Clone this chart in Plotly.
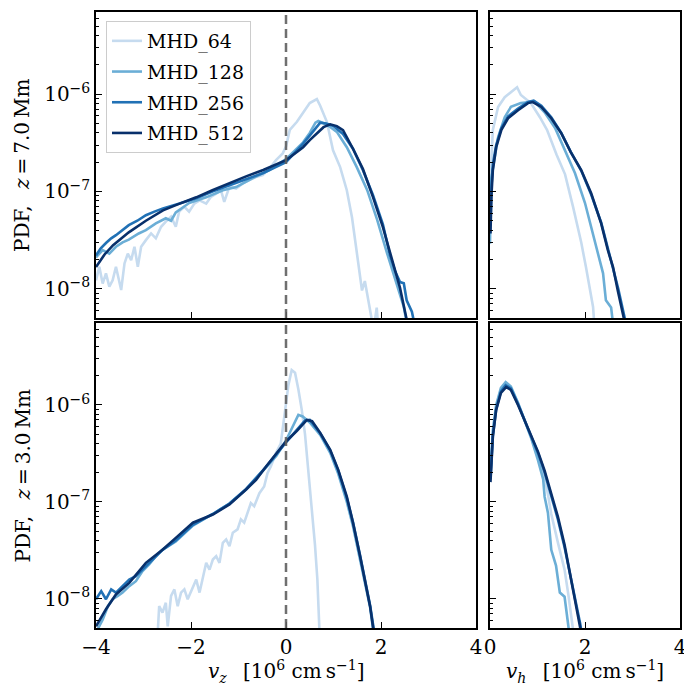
import plotly.graph_objects as go

# ---------------- data ----------------
series_names = ["MHD_64", "MHD_128", "MHD_256", "MHD_512"]
series_colors = ["#c6dbef", "#6baed6", "#2171b5", "#08306b"]

x_ticks_vz = [-4, -2, 0, 2, 4]
x_ticktext_vz = ["\u22124", "\u22122", "0", "2", "4"]
x_ticks_vh = [0, 2, 4]
x_ticktext_vh = ["0", "2", "4"]
y_ticks = [1e-8, 1e-7, 1e-6]
y_ticktext = ["10<sup>\u22128</sup>", "10<sup>\u22127</sup>", "10<sup>\u22126</sup>"]
y_minor = [6e-9, 7e-9, 8e-9, 9e-9, 2e-8, 3e-8, 4e-8, 5e-8, 6e-8, 7e-8, 8e-8, 9e-8,
           2e-7, 3e-7, 4e-7, 5e-7, 6e-7, 7e-7, 8e-7, 9e-7, 2e-6, 3e-6, 4e-6, 5e-6, 6e-6]
heights = ["7.0", "3.0"]

# ---- z = 7.0 Mm, v_z ----
vz7_x_64 = [-4.0, -3.93, -3.86, -3.79, -3.72, -3.65, -3.58, -3.47, -3.40, -3.33, -3.26, -3.19, -3.12, -3.05,
            -2.95, -2.84, -2.74, -2.63, -2.53, -2.42, -2.32, -2.25, -2.14, -2.04, -1.93, -1.82, -1.68, -1.58,
            -1.47, -1.37, -1.30, -1.19, -1.05, -0.91, -0.77, -0.63, -0.49, -0.35, -0.21, -0.07, 0.0, 0.08,
            0.23, 0.36, 0.5, 0.65, 0.72, 0.86, 0.99, 1.14, 1.28, 1.39, 1.5, 1.6, 1.66, 1.72, 1.8, 1.85, 1.91, 1.96]
vz7_y_64 = [1.22e-8, 1.68e-8, 1.13e-8, 1.44e-8, 1.05e-8, 1.22e-8, 1.68e-8, 9.7e-9, 1.82e-8, 2.3e-8, 1.97e-8,
            2.7e-8, 1.68e-8, 2.7e-8, 3.16e-8, 3.7e-8, 3.3e-8, 4.33e-8, 4.9e-8, 5.5e-8, 4.33e-8, 6.2e-8, 6.95e-8,
            6.2e-8, 7.5e-8, 8.1e-8, 7.5e-8, 8.8e-8, 9.5e-8, 1.03e-7, 7.8e-8, 1.12e-7, 1.07e-7, 1.21e-7, 1.31e-7,
            1.41e-7, 1.47e-7, 1.72e-7, 2.1e-7, 2.46e-7, 2.9e-7, 4.3e-7, 5.2e-7, 6.5e-7, 8.1e-7, 8.9e-7, 7.6e-7,
            5.2e-7, 2.65e-7, 1.78e-7, 1.03e-7, 5.4e-8, 2.3e-8, 9.6e-9, 1.2e-8, 8e-9, 5e-9, 4e-9, 6.4e-9, 3e-9]
vz7_x_128 = [-4.0, -3.86, -3.72, -3.58, -3.44, -3.31, -3.1, -2.95, -2.74, -2.53, -2.42, -2.32, -2.04, -1.68,
             -1.33, -1.05, -0.7, -0.35, 0.0, 0.2, 0.36, 0.5, 0.62, 0.68, 0.8, 0.93, 1.07, 1.28, 1.49, 1.71,
             1.92, 2.13, 2.34, 2.48, 2.56]
vz7_y_128 = [2.1e-8, 2.5e-8, 2.3e-8, 2.7e-8, 3.0e-8, 3.2e-8, 3.7e-8, 4.0e-8, 4.7e-8, 5.3e-8, 5.0e-8, 6.1e-8,
             7.6e-8, 8.7e-8, 1.03e-7, 1.11e-7, 1.37e-7, 1.66e-7, 2.15e-7, 2.7e-7, 3.2e-7, 4.0e-7, 5.1e-7,
             5.3e-7, 5.0e-7, 4.6e-7, 4.1e-7, 2.85e-7, 1.78e-7, 1.03e-7, 5.1e-8, 2.3e-8, 1.04e-8, 6.5e-9, 4e-9]
vz7_x_256 = [-4.0, -3.9, -3.79, -3.68, -3.58, -3.44, -3.31, -3.13, -2.95, -2.77, -2.59, -2.24, -1.89, -1.55,
             -1.2, -0.84, -0.48, 0.0, 0.36, 0.58, 0.72, 0.85, 1.0, 1.2, 1.41, 1.62, 1.83, 2.04, 2.19, 2.3,
             2.4, 2.48, 2.54, 2.65, 2.72]
vz7_y_256 = [2.2e-8, 2.6e-8, 2.95e-8, 3.3e-8, 3.55e-8, 4.0e-8, 4.5e-8, 5.0e-8, 5.7e-8, 6.2e-8, 6.7e-8, 7.5e-8,
             8.5e-8, 1.0e-7, 1.16e-7, 1.35e-7, 1.55e-7, 2.0e-7, 3.1e-7, 4.2e-7, 5.1e-7, 5.0e-7, 4.7e-7, 3.9e-7,
             2.75e-7, 1.65e-7, 9.2e-8, 4.6e-8, 2.2e-8, 1.5e-8, 1.17e-8, 1.14e-8, 7.6e-9, 5.8e-9, 4e-9]
vz7_x_512 = [-4.0, -3.82, -3.64, -3.31, -2.95, -2.59, -2.24, -1.89, -1.55, -1.2, -0.84, -0.48, -0.2, 0.0,
             0.23, 0.36, 0.5, 0.65, 0.79, 0.93, 1.07, 1.2, 1.41, 1.62, 1.83, 2.04, 2.25, 2.4, 2.53, 2.6]
vz7_y_512 = [1.67e-8, 2.25e-8, 2.8e-8, 3.8e-8, 5.0e-8, 6.4e-8, 7.5e-8, 8.7e-8, 1.03e-7, 1.22e-7, 1.43e-7,
             1.66e-7, 1.9e-7, 2.1e-7, 2.54e-7, 2.85e-7, 3.37e-7, 3.98e-7, 4.58e-7, 4.9e-7, 4.7e-7, 4.27e-7,
             2.75e-7, 1.7e-7, 8.8e-8, 4.3e-8, 1.88e-8, 1.02e-8, 5.1e-9, 3.5e-9]

# ---- z = 7.0 Mm, v_h ----
vh7_x_64 = [0.01, 0.06, 0.17, 0.31, 0.44, 0.57, 0.65, 0.86, 1.05, 1.2, 1.4, 1.58, 1.75, 1.92, 2.02, 2.1, 2.17, 2.2]
vh7_y_64 = [1.3e-7, 4.3e-7, 7.4e-7, 9.3e-7, 1.05e-6, 1.18e-6, 9.8e-7, 8.1e-7, 5.8e-7, 4.3e-7, 2.4e-7, 1.5e-7,
            6.9e-8, 3.0e-8, 1.67e-8, 9.6e-9, 6.5e-9, 4e-9]
vh7_x_128 = [0.0, 0.02, 0.17, 0.31, 0.44, 0.65, 0.94, 1.15, 1.37, 1.58, 1.79, 2.0, 2.13, 2.27, 2.38, 2.44, 2.55, 2.6]
vh7_y_128 = [2.9e-8, 1.3e-7, 3.6e-7, 5.8e-7, 7.4e-7, 8.1e-7, 8.4e-7, 6.5e-7, 4.5e-7, 2.66e-7, 1.54e-7, 7.6e-8,
             4.3e-8, 2.3e-8, 1.44e-8, 7.6e-9, 6.4e-9, 4e-9]
vh7_x_256 = [0.01, 0.03, 0.06, 0.13, 0.24, 0.38, 0.59, 0.8, 0.92, 1.08, 1.29, 1.5, 1.7, 1.92, 2.13, 2.34, 2.5,
             2.6, 2.7, 2.8, 2.88]
vh7_y_256 = [4.5e-8, 1.1e-7, 1.9e-7, 3.0e-7, 4.5e-7, 5.9e-7, 7.1e-7, 8.3e-7, 8.6e-7, 7.6e-7, 5.8e-7, 4.0e-7,
             2.55e-7, 1.64e-7, 9.3e-8, 4.8e-8, 2.4e-8, 1.6e-8, 1.0e-8, 6e-9, 4e-9]
vh7_x_512 = [0.01, 0.03, 0.06, 0.13, 0.24, 0.38, 0.59, 0.8, 0.9, 1.08, 1.29, 1.5, 1.7, 1.92, 2.13, 2.34, 2.48,
             2.59, 2.69, 2.8, 2.86]
vh7_y_512 = [3.7e-8, 9e-8, 1.66e-7, 2.85e-7, 4.3e-7, 5.66e-7, 6.85e-7, 8.1e-7, 8.3e-7, 7.4e-7, 5.66e-7, 3.97e-7,
             2.54e-7, 1.66e-7, 9.6e-8, 4.7e-8, 2.5e-8, 1.67e-8, 9.6e-9, 5.6e-9, 4e-9]

# ---- z = 3.0 Mm, v_z ----
vz3_x_64 = [-2.70, -2.67, -2.6, -2.53, -2.49, -2.42, -2.35, -2.28, -2.21, -2.14, -2.07, -1.96, -1.89, -1.82,
            -1.75, -1.68, -1.61, -1.54, -1.47, -1.40, -1.33, -1.26, -1.19, -1.12, -1.02, -0.95, -0.88, -0.81,
            -0.74, -0.67, -0.56, -0.46, -0.39, -0.32, -0.21, -0.11, -0.05, 0.0, 0.05, 0.12, 0.19, 0.26, 0.33,
            0.4, 0.47, 0.54, 0.61, 0.66, 0.7, 0.72]
vz3_y_64 = [4.5e-9, 8.4e-9, 7.2e-9, 9.1e-9, 5.2e-9, 1.07e-8, 1.25e-8, 8.4e-9, 1.16e-8, 1.25e-8, 9.9e-9, 1.35e-8,
            1.58e-8, 1.16e-8, 1.71e-8, 2.35e-8, 2.0e-8, 2.54e-8, 2.75e-8, 2.35e-8, 3.78e-8, 4.1e-8, 3.5e-8,
            4.8e-8, 5.2e-8, 6.6e-8, 6.1e-8, 7.7e-8, 9.7e-8, 9.0e-8, 1.23e-7, 1.44e-7, 1.98e-7, 2.32e-7, 3.2e-7,
            4.0e-7, 6.5e-7, 1.0e-6, 1.6e-6, 2.29e-6, 2.15e-6, 1.45e-6, 9.0e-7, 5.0e-7, 2.1e-7, 8.5e-8, 3.6e-8,
            1.6e-8, 6e-9, 3e-9]
vz3_x_128 = [-4.0, -3.86, -3.75, -3.65, -3.54, -3.44, -3.3, -3.16, -3.02, -2.88, -2.74, -2.6, -2.32, -1.96,
             -1.54, -1.19, -0.84, -0.42, -0.2, 0.0, 0.15, 0.26, 0.35, 0.5, 0.72, 0.93, 1.1, 1.28, 1.41, 1.56,
             1.66, 1.77, 1.84, 1.9]
vz3_y_128 = [4.5e-9, 6.1e-9, 8.4e-9, 9.9e-9, 1.07e-8, 1.16e-8, 1.35e-8, 1.52e-8, 1.93e-8, 2.27e-8, 2.75e-8,
             3.2e-8, 3.9e-8, 5.7e-8, 7.5e-8, 9.6e-8, 1.34e-7, 2.3e-7, 3.0e-7, 4.3e-7, 6.2e-7, 7.9e-7, 7.6e-7,
             6.6e-7, 4.9e-7, 3.2e-7, 1.95e-7, 1.0e-7, 5.6e-8, 2.6e-8, 1.55e-8, 8.2e-9, 4.6e-9, 3e-9]
vz3_x_256 = [-4.0, -3.89, -3.79, -3.68, -3.58, -3.44, -3.3, -3.16, -3.02, -2.88, -2.74, -2.6, -2.32, -1.96,
             -1.54, -1.19, -0.84, -0.42, 0.0, 0.23, 0.4, 0.5, 0.72, 0.93, 1.1, 1.28, 1.41, 1.56, 1.66, 1.77,
             1.85, 1.9]
vz3_y_256 = [9.9e-9, 1.2e-8, 9.9e-9, 1.25e-8, 1.16e-8, 1.35e-8, 1.58e-8, 1.71e-8, 2.0e-8, 2.35e-8, 2.75e-8,
             3.2e-8, 4.0e-8, 5.8e-8, 7.5e-8, 9.6e-8, 1.36e-7, 2.3e-7, 4.1e-7, 5.6e-7, 6.9e-7, 7.0e-7, 5.1e-7,
             3.4e-7, 2.1e-7, 1.1e-7, 6.2e-8, 2.8e-8, 1.65e-8, 8.6e-9, 4.8e-9, 3.5e-9]
vz3_x_512 = [-4.0, -3.79, -3.58, -3.3, -2.95, -2.6, -2.32, -1.96, -1.54, -1.19, -0.84, -0.63, -0.42, -0.21, 0.0,
             0.23, 0.44, 0.55, 0.72, 0.93, 1.1, 1.28, 1.41, 1.56, 1.66, 1.77, 1.84, 1.88]
vz3_y_512 = [5.2e-9, 7.8e-9, 1.11e-8, 1.46e-8, 2.35e-8, 3.2e-8, 4.25e-8, 6.1e-8, 7.4e-8, 9.4e-8, 1.34e-7,
             1.69e-7, 2.32e-7, 3.1e-7, 4.2e-7, 5.4e-7, 7.0e-7, 6.8e-7, 5.15e-7, 3.44e-7, 2.14e-7, 1.13e-7,
             6.1e-8, 2.75e-8, 1.6e-8, 8.4e-9, 4.8e-9, 3.5e-9]

# ---- z = 3.0 Mm, v_h ----
vh3_x_64 = [0.01, 0.06, 0.13, 0.23, 0.33, 0.44, 0.59, 0.73, 0.87, 1.01, 1.15, 1.22, 1.29, 1.43, 1.57, 1.65, 1.72, 1.77]
vh3_y_64 = [1.8e-7, 5.2e-7, 9.5e-7, 1.45e-6, 1.65e-6, 1.5e-6, 1.05e-6, 7.0e-7, 4.6e-7, 2.9e-7, 1.8e-7, 1.2e-7,
            7.5e-8, 3.8e-8, 2.0e-8, 1.1e-8, 6e-9, 4e-9]
vh3_x_128 = [0.01, 0.06, 0.13, 0.23, 0.33, 0.44, 0.59, 0.73, 0.87, 1.01, 1.12, 1.15, 1.22, 1.29, 1.39, 1.47,
             1.57, 1.64, 1.68]
vh3_y_128 = [2e-7, 5.5e-7, 1.0e-6, 1.5e-6, 1.72e-6, 1.55e-6, 1.05e-6, 6.8e-7, 4.5e-7, 2.7e-7, 1.7e-7, 1.13e-7,
             7.7e-8, 3.2e-8, 2.2e-8, 1.16e-8, 1.05e-8, 5.7e-9, 4e-9]
vh3_x_256 = [0.01, 0.06, 0.13, 0.23, 0.33, 0.44, 0.59, 0.73, 0.87, 1.01, 1.15, 1.29, 1.43, 1.57, 1.71, 1.81, 1.9, 1.96]
vh3_y_256 = [1.7e-7, 4.8e-7, 9.0e-7, 1.38e-6, 1.6e-6, 1.48e-6, 1.02e-6, 6.9e-7, 4.7e-7, 3.2e-7, 2.0e-7, 1.15e-7,
             6.6e-8, 3.4e-8, 1.6e-8, 9.5e-9, 5.5e-9, 3.5e-9]
vh3_x_512 = [0.01, 0.06, 0.13, 0.23, 0.34, 0.44, 0.59, 0.73, 0.87, 1.01, 1.15, 1.29, 1.43, 1.57, 1.71, 1.81, 1.9, 1.96]
vh3_y_512 = [1.6e-7, 4.7e-7, 8.9e-7, 1.33e-6, 1.53e-6, 1.43e-6, 1.0e-6, 7.0e-7, 4.8e-7, 3.3e-7, 2.1e-7, 1.2e-7,
             7.0e-8, 3.6e-8, 1.6e-8, 9.5e-9, 5.5e-9, 3.5e-9]

# ---------------- figure ----------------
W, H = 684, 687
FONT = "DejaVu Serif"
TICKFONT = 20
TITLEFONT = 20
LEGFONT = 19

panels = [  # (xaxis id, yaxis id, list of (x, y))
    ("x", "y", [(vz7_x_64, vz7_y_64), (vz7_x_128, vz7_y_128), (vz7_x_256, vz7_y_256), (vz7_x_512, vz7_y_512)]),
    ("x2", "y2", [(vh7_x_64, vh7_y_64), (vh7_x_128, vh7_y_128), (vh7_x_256, vh7_y_256), (vh7_x_512, vh7_y_512)]),
    ("x3", "y3", [(vz3_x_64, vz3_y_64), (vz3_x_128, vz3_y_128), (vz3_x_256, vz3_y_256), (vz3_x_512, vz3_y_512)]),
    ("x4", "y4", [(vh3_x_64, vh3_y_64), (vh3_x_128, vh3_y_128), (vh3_x_256, vh3_y_256), (vh3_x_512, vh3_y_512)]),
]

fig = go.Figure()
for p, (xa, ya, data) in enumerate(panels):
    for i, (xs, ys) in enumerate(data):
        fig.add_trace(go.Scatter(
            x=xs, y=ys, mode="lines", name=series_names[i],
            line=dict(color=series_colors[i], width=2.6),
            xaxis=xa, yaxis=ya, legendgroup=series_names[i],
            showlegend=(p == 0), hoverinfo="skip"))


def px_x(v):
    return v / W


def px_y(v):
    return 1 - v / H


col_dom = [[px_x(96), px_x(476)], [px_x(490), px_x(680)]]
row_dom = [[px_y(318), px_y(12)], [px_y(628), px_y(323)]]

common = dict(showline=True, linecolor="black", linewidth=1.5, mirror=True,
              ticks="inside", ticklen=6, tickwidth=1.3, tickcolor="black",
              showgrid=False, zeroline=False, automargin=False, ticklabeloverflow="allow",
              tickfont=dict(family=FONT, size=TICKFONT, color="black"))

ylog_range = [-8.301, -5.155]

for p, (xa, ya, _) in enumerate(panels):
    r, c = divmod(p, 2)
    xkey = "xaxis" if xa == "x" else "xaxis" + xa[1:]
    ykey = "yaxis" if ya == "y" else "yaxis" + ya[1:]
    if c == 0:
        xt, xtt, xr = x_ticks_vz, x_ticktext_vz, [-4, 4]
    else:
        xt, xtt, xr = x_ticks_vh, x_ticktext_vh, [0, 4]
    fig.layout[xkey] = dict(common, domain=col_dom[c], anchor=ya, range=xr,
                            tickvals=xt, ticktext=xtt, showticklabels=(r == 1))
    fig.layout[ykey] = dict(common, domain=row_dom[r], anchor=xa, type="log", range=ylog_range,
                            tickvals=y_ticks, ticktext=y_ticktext, showticklabels=(c == 0),
                            minor=dict(ticks="inside", ticklen=3.5, tickwidth=1, tickcolor="black",
                                       tickvals=y_minor, showgrid=False))

# dashed zero lines in the v_z panels
for xa, ya in [("x", "y"), ("x3", "y3")]:
    fig.add_shape(type="line", xref=xa, yref=ya + " domain", x0=0, x1=0, y0=0, y1=1,
                  line=dict(color="rgba(95,95,95,0.9)", width=2.5, dash="9px,5px"), layer="above")

annos = []
for r, hz in enumerate(heights):
    yc = (row_dom[r][0] + row_dom[r][1]) / 2
    annos.append(dict(text="PDF,\u2002 <i>z</i>\u2009=\u2009" + hz + "\u2009Mm", x=px_x(22), y=yc,
                      xref="paper", yref="paper",
                      textangle=-90, showarrow=False, xanchor="center", yanchor="middle",
                      font=dict(family=FONT, size=TITLEFONT, color="black")))
annos.append(dict(text="<i>v<sub>z</sub></i>\u2002 [10<sup>6</sup> cm\u2009s<sup>\u22121</sup>]",
                  x=(col_dom[0][0] + col_dom[0][1]) / 2, y=px_y(671), xref="paper", yref="paper",
                  showarrow=False, xanchor="center", yanchor="middle",
                  font=dict(family=FONT, size=TITLEFONT, color="black")))
annos.append(dict(text="<i>v<sub>h</sub></i>\u2002 [10<sup>6</sup> cm\u2009s<sup>\u22121</sup>]",
                  x=(col_dom[1][0] + col_dom[1][1]) / 2, y=px_y(671), xref="paper", yref="paper",
                  showarrow=False, xanchor="center", yanchor="middle",
                  font=dict(family=FONT, size=TITLEFONT, color="black")))

fig.update_layout(
    width=W, height=H, margin=dict(l=0, r=0, t=0, b=0, autoexpand=False),
    paper_bgcolor="white", plot_bgcolor="white",
    annotations=annos,
    legend=dict(x=px_x(106), y=px_y(21), xanchor="left", yanchor="top",
                bgcolor="rgba(255,255,255,0.85)", bordercolor="#cccccc", borderwidth=1,
                font=dict(family=FONT, size=LEGFONT, color="black"),
                itemwidth=30, tracegroupgap=3),
    font=dict(family=FONT, color="black"),
)

fig.write_html("out.html")
